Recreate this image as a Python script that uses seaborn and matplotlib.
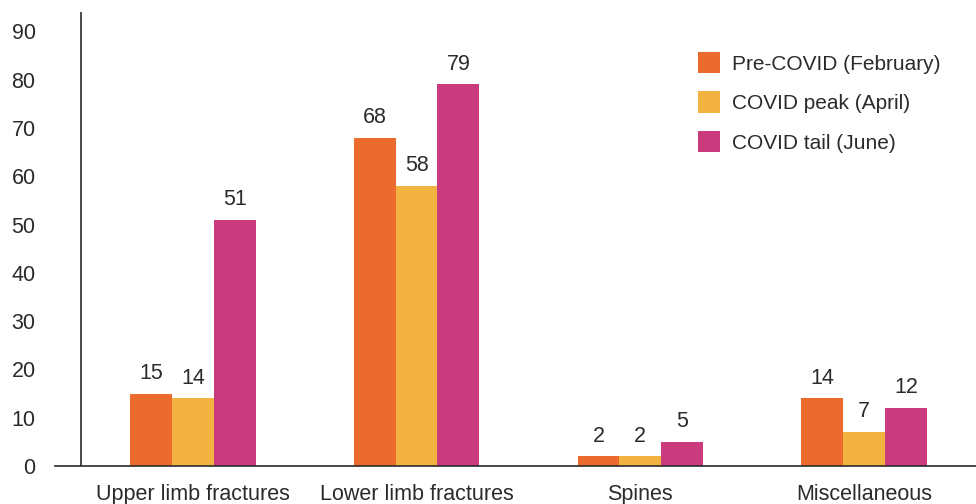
import matplotlib
matplotlib.use("Agg")
import matplotlib.pyplot as plt
import seaborn as sns
import pandas as pd
from matplotlib.patches import Patch

categories = ["Upper limb fractures", "Lower limb fractures", "Spines", "Miscellaneous"]
periods = ["Pre-COVID (February)", "COVID peak (April)", "COVID tail (June)"]
pre_covid = [15, 68, 2, 14]
covid_peak = [14, 58, 2, 7]
covid_tail = [51, 79, 5, 12]
y_ticks = [0, 10, 20, 30, 40, 50, 60, 70, 80, 90]
colors = ["#EB6A2E", "#F3B340", "#C93B7D"]
text_color = "#2B2B2B"

rows = []
for p, vals in zip(periods, [pre_covid, covid_peak, covid_tail]):
    for c, v in zip(categories, vals):
        rows.append({"category": c, "period": p, "value": v})
df = pd.DataFrame(rows)

sns.set_style("white")
plt.rcParams["font.family"] = ["Liberation Sans", "DejaVu Sans"]
fs = 15.5

fig = plt.figure(figsize=(9.76, 5.04), dpi=100)
ax = fig.add_axes([55 / 976, 38 / 504, (976 - 55) / 976, (466 - 12) / 504])

sns.barplot(data=df, x="category", y="value", hue="period", order=categories,
            hue_order=periods, palette=colors, width=0.56, gap=0, saturation=1,
            errorbar=None, ax=ax, legend=False, linewidth=0, edgecolor="none")

for cont in ax.containers:
    ax.bar_label(cont, padding=7, fontsize=fs, color=text_color)

ax.set_xlim(-0.5 - 26 / 224, 3.5)
ax.set_ylim(0, 94)
ax.set_yticks(y_ticks)
ax.set_xlabel("")
ax.set_ylabel("")

for s in ["top", "right", "left"]:
    ax.spines[s].set_visible(False)
ax.spines["bottom"].set_color(text_color)
ax.spines["bottom"].set_linewidth(1.2)
ax.axvline(-0.5, ymin=0, ymax=1, color=text_color, lw=1.2, zorder=5)

ax.tick_params(axis="y", length=0, pad=14, labelsize=fs, labelcolor=text_color)
ax.tick_params(axis="x", which="major", length=0, pad=13, labelsize=fs, labelcolor=text_color)
ax.set_xticks([-0.5, 0.5, 1.5, 2.5], minor=True)
ax.tick_params(axis="x", which="minor", length=12.5, width=1.2, color=text_color, direction="out")

handles = [Patch(facecolor=c, edgecolor="none", label=p) for c, p in zip(colors, periods)]
fig.legend(handles=handles, loc="upper left", bbox_to_anchor=(698 / 976, 1 - 52 / 504),
           frameon=False, fontsize=15, handlelength=1.05, handleheight=1.2,
           handletextpad=0.6, labelspacing=0.85, borderpad=0, borderaxespad=0,
           labelcolor=text_color)

fig.savefig("out.png", dpi=100)
